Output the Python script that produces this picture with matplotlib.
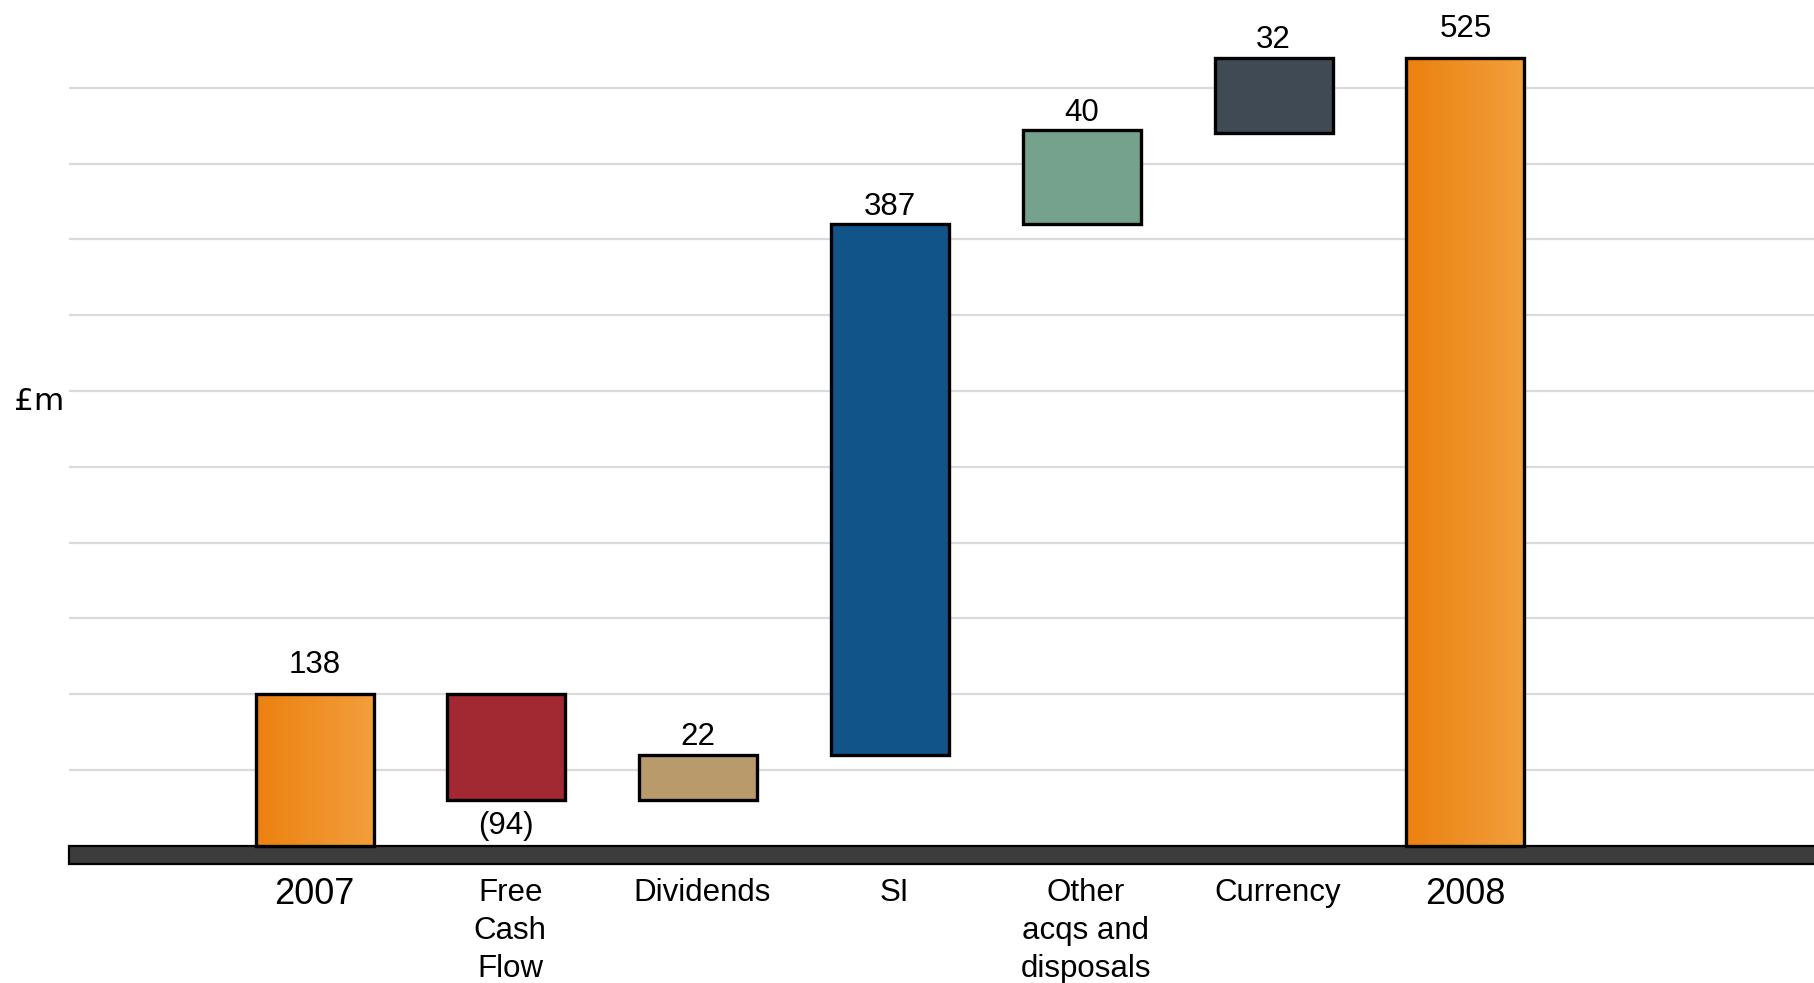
import matplotlib
matplotlib.use("Agg")
import matplotlib.pyplot as plt
import numpy as np
from matplotlib.colors import LinearSegmentedColormap
from matplotlib.patches import Rectangle

plt.rcParams['font.family'] = ['Liberation Sans', 'DejaVu Sans']

# ---- data ----
categories = ["2007", "Free\nCash\nFlow", "Dividends", "SI",
              "Other\nacqs and\ndisposals", "Currency", "2008"]
values = [138, -94, 22, 387, 40, 32, 525]
is_total = [True, False, False, False, False, False, True]
# bar extents as drawn in the original (the chart is not drawn to scale)
bar_low = [0, 30, 30, 60, 410, 470, 0]
bar_high = [100, 100, 60, 410, 472, 520, 520]
gridlines = [50, 100, 150, 200, 250, 300, 350, 400, 450, 500]

colors = [None, "#A22832", "#B99B6B", "#11548A", "#74A28C", "#3F4A54", None]

# ---- figure ----
W, H = 1814, 983
fig = plt.figure(figsize=(W / 100, H / 100), dpi=100)
ax = fig.add_axes([69 / W, 0, 1 - 69 / W, 1])
ax.set_xlim(-1.2805, 7.8175)
ax.set_ylim(-90.6, 558.0)
ax.axis("off")

for g in gridlines:
    ax.axhline(g, color="#dadada", lw=1.6, zorder=1)

# dark baseline band
ax.add_patch(Rectangle((-1.2805, -12.2), 9.2, 12.2, facecolor="#3c3c3c",
                       edgecolor="black", lw=1.6, zorder=2, clip_on=False))

width = 0.615
x = np.arange(len(categories))
orange = LinearSegmentedColormap.from_list("og", ["#EC8110", "#F29F3C"])
grad = np.linspace(0, 1, 256).reshape(1, -1)

for i in range(len(categories)):
    lo, hi = bar_low[i], bar_high[i]
    if is_total[i]:
        ax.imshow(grad, cmap=orange, aspect="auto", zorder=3,
                  extent=[x[i] - width / 2, x[i] + width / 2, lo, hi])
        ax.bar(x[i], hi - lo, bottom=lo, width=width, facecolor="none",
               edgecolor="black", lw=2.4, zorder=4)
    else:
        ax.bar(x[i], hi - lo, bottom=lo, width=width, color=colors[i],
               edgecolor="black", lw=2.4, zorder=4)

    v = values[i]
    if v < 0:
        ax.annotate(f"({abs(v)})", (x[i], lo), xytext=(0, -8),
                    textcoords="offset points", ha="center", va="top",
                    fontsize=22.5)
    else:
        off = 15 if is_total[i] else 7
        ax.annotate(f"{v}", (x[i], hi), xytext=(0, off),
                    textcoords="offset points", ha="center", va="baseline",
                    fontsize=22.5)

    if is_total[i]:
        ax.text(x[i], -38.6, categories[i], ha="center", va="baseline",
                fontsize=26)
    else:
        ax.text(x[i] + 0.02, -21.6, categories[i], ha="center", va="top",
                fontsize=22.5, linespacing=1.34)

ax.set_xlim(-1.2805, 7.8175)
ax.set_ylim(-90.6, 558.0)

fig.text(14 / W, 1 - 401.5 / H, "£m", ha="left", va="center",
         fontsize=22.5, family=["DejaVu Sans"])

fig.savefig("out.png", dpi=100)
